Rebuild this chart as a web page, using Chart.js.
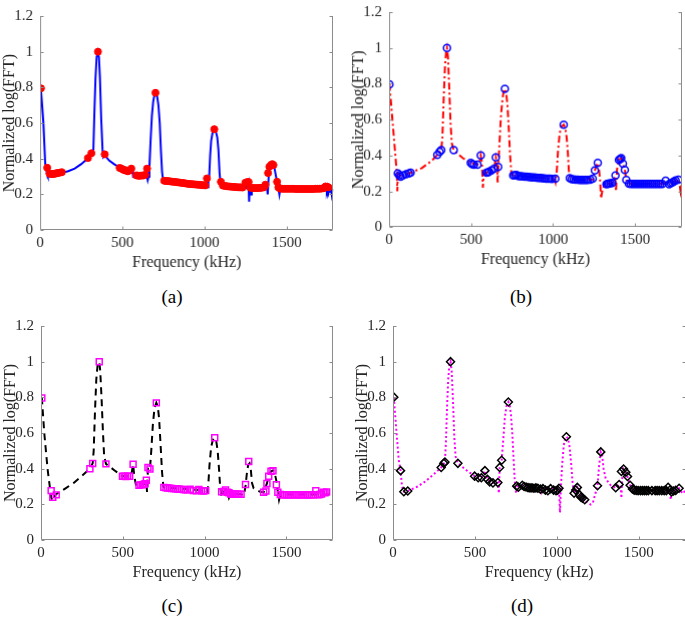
<!DOCTYPE html>
<html lang="en">
<head>
<meta charset="UTF-8">
<title>Normalized log(FFT) spectra</title>
<script src="https://cdn.jsdelivr.net/npm/chart.js"></script>
<style>
  body { margin: 0; background: #fff; }
  #fig { position: relative; width: 685px; height: 620px; overflow: hidden; }
  .panel { position: absolute; }
  .tag {
    position: absolute;
    font-family: "Liberation Serif", "DejaVu Serif", serif;
    font-size: 19px;
    color: #000;
    transform: translate(-50%, -50%);
  }
</style>
</head>
<body>
<div id="fig">
  <div class="panel" id="boxA"><canvas id="chartA"></canvas></div>
  <div class="panel" id="boxB"><canvas id="chartB"></canvas></div>
  <div class="panel" id="boxC"><canvas id="chartC"></canvas></div>
  <div class="panel" id="boxD"><canvas id="chartD"></canvas></div>
  <div class="tag" style="left:172px;top:297px">(a)</div>
  <div class="tag" style="left:521px;top:297px">(b)</div>
  <div class="tag" style="left:172px;top:606px">(c)</div>
  <div class="tag" style="left:522px;top:606px">(d)</div>
</div>

<script>
// axis ticks
const xTicks = [0, 500, 1000, 1500];
const yTicks = [0, 0.2, 0.4, 0.6, 0.8, 1, 1.2];
const xMax = 1785;

// (a) blue solid curve + red filled dots  [kHz, value]
const lineA = [[5,0.79],[20,0.6],[31,0.37],[43,0.31],[47,0.3],[55,0.305],[80,0.31],[128,0.32],[170,0.33],[210,0.345],
  [250,0.37],[281,0.395],[305,0.415],[318,0.43],[324,0.45],[330,0.65],[337,0.85],[344,0.97],[352,1.0],[358,0.97],
  [364,0.86],[372,0.62],[380,0.45],[385,0.41],[393,0.42],[420,0.39],[450,0.37],[484,0.35],[520,0.335],[555,0.325],
  [562,0.33],[566,0.3],[600,0.3],[640,0.3],[650,0.3],[655,0.28],[660,0.3],[665,0.35],[672,0.5],[680,0.64],
  [688,0.72],[696,0.76],[704,0.77],[712,0.75],[720,0.7],[728,0.6],[735,0.45],[742,0.33],[748,0.28],[755,0.275],
  [800,0.27],[900,0.26],[1000,0.25],[1015,0.25],[1020,0.24],[1024,0.27],[1029,0.3],[1035,0.42],[1041,0.5],[1050,0.55],
  [1060,0.565],[1070,0.55],[1078,0.52],[1085,0.45],[1092,0.32],[1097,0.27],[1110,0.245],[1200,0.24],[1255,0.235],[1262,0.26],
  [1268,0.27],[1272,0.16],[1276,0.26],[1281,0.24],[1284,0.2],[1288,0.235],[1300,0.235],[1370,0.24],[1380,0.25],[1385,0.2],
  [1391,0.3],[1400,0.355],[1415,0.37],[1425,0.355],[1432,0.32],[1438,0.29],[1445,0.26],[1450,0.235],[1456,0.2],[1462,0.235],
  [1500,0.23],[1600,0.228],[1730,0.23],[1740,0.24],[1745,0.22],[1750,0.24],[1755,0.21],[1760,0.23],[1765,0.215],[1770,0.235],
  [1775,0.2],[1780,0.23]];
const dotsA = [[5,0.795],[43,0.35],[57,0.317],[65,0.315],[73,0.315],[82,0.315],[90,0.317],[98,0.318],[105,0.32],[118,0.322],
  [132,0.325],[291,0.404],[312,0.431],[352,1.0],[393,0.425],[484,0.349],[495,0.345],[504,0.34],[512,0.337],[519,0.335],
  [527,0.333],[534,0.33],[545,0.335],[555,0.345],[586,0.307],[596,0.305],[606,0.305],[616,0.306],[627,0.306],[640,0.31],
  [651,0.345],[702,0.77],[755,0.277],[765,0.276],[777,0.275],[789,0.274],[801,0.272],[813,0.271],[825,0.27],[837,0.268],
  [849,0.267],[861,0.265],[873,0.264],[885,0.262],[897,0.26],[909,0.259],[921,0.258],[933,0.257],[945,0.256],[957,0.255],
  [969,0.254],[981,0.253],[993,0.252],[1005,0.251],[1015,0.29],[1060,0.566],[1100,0.271],[1112,0.25],[1124,0.248],[1136,0.246],
  [1148,0.245],[1160,0.244],[1172,0.243],[1184,0.242],[1196,0.241],[1208,0.24],[1220,0.24],[1232,0.239],[1249,0.266],[1262,0.27],
  [1269,0.27],[1279,0.238],[1290,0.237],[1302,0.236],[1314,0.236],[1326,0.236],[1338,0.237],[1350,0.238],[1362,0.24],[1371,0.255],
  [1387,0.32],[1395,0.355],[1405,0.365],[1413,0.37],[1420,0.365],[1442,0.271],[1450,0.24],[1460,0.233],[1472,0.232],[1484,0.232],
  [1496,0.232],[1508,0.232],[1520,0.232],[1532,0.232],[1544,0.232],[1556,0.231],[1568,0.231],[1580,0.231],[1592,0.231],[1604,0.231],
  [1616,0.231],[1628,0.231],[1640,0.231],[1652,0.231],[1664,0.231],[1676,0.232],[1688,0.232],[1700,0.232],[1712,0.233],[1726,0.235],
  [1737,0.245],[1747,0.243],[1755,0.24]];

// (b) red dash-dot curve + blue open circles
const lineB = [[2,0.8],[20,0.6],[38,0.4],[47,0.3],[50,0.2],[53,0.3],[70,0.285],[131,0.304],[200,0.33],[260,0.37],
  [294,0.403],[318,0.43],[325,0.5],[333,0.72],[341,0.9],[348,0.98],[353,1.0],[359,0.95],[366,0.8],[374,0.6],
  [382,0.47],[394,0.43],[450,0.385],[498,0.358],[539,0.349],[553,0.37],[559,0.4],[566,0.36],[572,0.22],[577,0.3],
  [594,0.304],[641,0.327],[651,0.389],[658,0.36],[662,0.25],[666,0.336],[672,0.45],[682,0.62],[692,0.72],[700,0.765],
  [706,0.771],[714,0.75],[722,0.68],[730,0.55],[738,0.4],[746,0.3],[757,0.289],[1000,0.269],[1010,0.265],[1015,0.25],
  [1022,0.3],[1030,0.42],[1040,0.52],[1050,0.56],[1065,0.572],[1075,0.55],[1083,0.5],[1090,0.42],[1096,0.32],[1102,0.273],
  [1240,0.265],[1255,0.317],[1265,0.345],[1273,0.358],[1280,0.33],[1287,0.26],[1293,0.16],[1300,0.2],[1310,0.23],[1326,0.24],
  [1361,0.247],[1378,0.285],[1384,0.2],[1390,0.32],[1402,0.376],[1416,0.385],[1426,0.355],[1438,0.32],[1447,0.263],[1463,0.242],
  [1680,0.242],[1687,0.259],[1708,0.24],[1765,0.265],[1772,0.24],[1778,0.2],[1785,0.24]];
const ringsB = [[2,0.797],[53,0.3],[62,0.29],[70,0.282],[84,0.289],[104,0.295],[120,0.3],[131,0.304],[294,0.403],[308,0.42],
  [318,0.43],[353,1.0],[394,0.43],[498,0.358],[507,0.352],[517,0.349],[539,0.349],[559,0.4],[594,0.304],[602,0.306],
  [610,0.309],[624,0.316],[641,0.327],[651,0.389],[665,0.336],[706,0.771],[757,0.289],[767,0.29],[777,0.291],[790,0.285],
  [802,0.284],[814,0.283],[826,0.282],[838,0.281],[850,0.28],[862,0.279],[874,0.278],[886,0.277],[898,0.276],[910,0.275],
  [922,0.274],[934,0.273],[946,0.272],[958,0.271],[970,0.27],[982,0.27],[994,0.269],[1014,0.27],[1065,0.572],[1102,0.273],
  [1114,0.268],[1126,0.266],[1138,0.265],[1150,0.265],[1162,0.264],[1174,0.264],[1186,0.264],[1198,0.264],[1210,0.264],[1227,0.265],
  [1242,0.27],[1255,0.317],[1273,0.358],[1326,0.24],[1334,0.242],[1341,0.243],[1350,0.245],[1361,0.247],[1381,0.289],[1402,0.376],
  [1410,0.38],[1416,0.385],[1426,0.355],[1438,0.32],[1447,0.263],[1463,0.242],[1475,0.241],[1487,0.241],[1499,0.241],[1511,0.241],
  [1523,0.241],[1535,0.241],[1547,0.241],[1559,0.241],[1571,0.241],[1583,0.241],[1595,0.241],[1607,0.241],[1619,0.241],[1631,0.241],
  [1643,0.241],[1655,0.241],[1667,0.241],[1687,0.259],[1708,0.24],[1718,0.245],[1728,0.25],[1738,0.255],[1748,0.26],[1765,0.265]];

// (c) black dashed curve + magenta open squares
const lineC = [[5,0.8],[20,0.6],[40,0.4],[55,0.29],[62,0.24],[70,0.22],[90,0.255],[150,0.29],[200,0.32],[250,0.36],
  [299,0.4],[316,0.43],[322,0.5],[330,0.72],[338,0.9],[346,0.98],[356,1.0],[362,0.95],[370,0.8],[378,0.62],
  [386,0.47],[397,0.427],[450,0.39],[498,0.358],[542,0.358],[555,0.38],[563,0.425],[570,0.36],[580,0.31],[599,0.307],
  [636,0.315],[644,0.335],[648,0.27],[654,0.407],[666,0.398],[674,0.5],[684,0.65],[694,0.74],[705,0.769],[714,0.75],
  [722,0.68],[730,0.55],[740,0.38],[748,0.3],[751,0.295],[1007,0.277],[1015,0.27],[1022,0.3],[1030,0.42],[1040,0.52],
  [1050,0.56],[1062,0.573],[1072,0.55],[1080,0.5],[1088,0.4],[1095,0.3],[1104,0.237],[1117,0.272],[1128,0.28],[1140,0.268],
  [1149,0.237],[1158,0.258],[1223,0.257],[1240,0.25],[1250,0.3],[1258,0.37],[1266,0.42],[1275,0.43],[1282,0.4],[1290,0.32],
  [1300,0.29],[1340,0.27],[1361,0.268],[1381,0.317],[1392,0.358],[1406,0.385],[1418,0.39],[1428,0.38],[1439,0.33],[1448,0.268],
  [1455,0.225],[1463,0.255],[1785,0.255]];
const squaresC = [[5,0.796],[62,0.277],[72,0.24],[93,0.253],[299,0.4],[316,0.429],[356,1.0],[397,0.427],[498,0.358],[508,0.357],
  [518,0.356],[530,0.357],[542,0.358],[563,0.425],[599,0.307],[610,0.309],[620,0.31],[628,0.312],[636,0.315],[644,0.335],
  [654,0.407],[666,0.398],[705,0.769],[751,0.295],[764,0.293],[775,0.292],[787,0.29],[799,0.289],[811,0.288],[823,0.287],
  [835,0.286],[847,0.285],[859,0.284],[871,0.283],[883,0.282],[895,0.281],[912,0.285],[930,0.277],[950,0.276],[965,0.283],
  [982,0.276],[995,0.275],[1007,0.277],[1062,0.573],[1104,0.271],[1117,0.272],[1128,0.28],[1140,0.268],[1149,0.265],[1160,0.258],
  [1169,0.257],[1180,0.257],[1190,0.257],[1199,0.257],[1210,0.257],[1223,0.257],[1250,0.311],[1270,0.44],[1361,0.268],[1375,0.275],
  [1381,0.317],[1392,0.358],[1406,0.385],[1418,0.388],[1439,0.31],[1448,0.268],[1463,0.255],[1475,0.254],[1487,0.254],[1499,0.254],
  [1511,0.254],[1523,0.253],[1535,0.253],[1547,0.253],[1559,0.253],[1571,0.253],[1583,0.253],[1595,0.253],[1607,0.253],[1619,0.253],
  [1631,0.253],[1643,0.253],[1655,0.253],[1667,0.254],[1680,0.277],[1692,0.254],[1704,0.255],[1715,0.258],[1726,0.268],[1736,0.265],
  [1746,0.27]];

// (d) magenta dotted curve + black open diamonds
const lineD = [[5,0.8],[20,0.62],[35,0.45],[46,0.389],[55,0.3],[66,0.271],[90,0.275],[150,0.3],[200,0.33],[250,0.37],
  [294,0.407],[317,0.437],[323,0.55],[330,0.75],[337,0.9],[344,0.98],[351,1.0],[358,0.95],[366,0.78],[374,0.58],
  [382,0.47],[396,0.43],[450,0.39],[498,0.358],[539,0.349],[561,0.389],[576,0.34],[610,0.32],[640,0.322],[646,0.262],
  [651,0.407],[663,0.447],[672,0.55],[682,0.68],[692,0.75],[704,0.774],[712,0.76],[720,0.7],[728,0.6],[736,0.45],
  [745,0.3],[752,0.262],[760,0.3],[789,0.307],[900,0.29],[905,0.27],[912,0.288],[1013,0.29],[1019,0.154],[1025,0.3],
  [1032,0.42],[1042,0.53],[1050,0.57],[1058,0.579],[1068,0.57],[1078,0.52],[1088,0.42],[1096,0.32],[1105,0.262],[1115,0.28],
  [1125,0.295],[1139,0.253],[1156,0.235],[1170,0.226],[1185,0.21],[1207,0.199],[1220,0.21],[1235,0.26],[1248,0.304],[1258,0.42],
  [1268,0.494],[1276,0.48],[1285,0.4],[1298,0.344],[1328,0.307],[1359,0.293],[1380,0.311],[1390,0.3],[1394,0.235],[1398,0.34],
  [1407,0.398],[1421,0.38],[1431,0.356],[1447,0.307],[1461,0.286],[1480,0.278],[1690,0.278],[1695,0.226],[1700,0.27],[1746,0.29],
  [1760,0.27],[1770,0.26],[1785,0.28]];
const diamondsD = [[5,0.801],[46,0.389],[66,0.271],[90,0.275],[294,0.407],[310,0.43],[317,0.437],[351,1.0],[396,0.43],[498,0.358],
  [520,0.349],[539,0.349],[561,0.389],[576,0.34],[590,0.326],[610,0.32],[640,0.322],[651,0.407],[663,0.447],[704,0.774],
  [755,0.302],[765,0.296],[789,0.307],[800,0.3],[812,0.297],[824,0.294],[836,0.292],[848,0.292],[860,0.29],[872,0.292],
  [884,0.29],[900,0.285],[915,0.288],[930,0.28],[945,0.276],[962,0.288],[980,0.28],[995,0.276],[1005,0.28],[1013,0.29],
  [1058,0.579],[1105,0.262],[1115,0.28],[1125,0.295],[1139,0.253],[1147,0.24],[1156,0.235],[1170,0.226],[1248,0.304],[1268,0.494],
  [1359,0.293],[1380,0.311],[1394,0.384],[1407,0.398],[1421,0.38],[1431,0.356],[1447,0.307],[1461,0.286],[1472,0.28],[1484,0.278],
  [1496,0.277],[1510,0.277],[1522,0.277],[1534,0.277],[1546,0.277],[1558,0.277],[1580,0.277],[1600,0.277],[1612,0.277],[1625,0.277],
  [1640,0.277],[1655,0.277],[1668,0.277],[1679,0.296],[1690,0.28],[1700,0.27],[1712,0.275],[1725,0.278],[1746,0.29]];

const serif = '"Liberation Serif", "DejaVu Serif", serif';
const textColor = '#262626';

// inward MATLAB-style ticks and the axes box (left, bottom, right)
const axisFrame = {
  id: 'axisFrame',
  afterDraw(chart) {
    const { ctx, chartArea: a, scales: { x, y } } = chart;
    const L = Math.round(a.left) + 0.5, R = Math.round(a.right) - 0.5, B = Math.round(a.bottom) - 0.5, T = Math.round(a.top);
    ctx.save();
    ctx.strokeStyle = '#8c8c8c';
    ctx.lineWidth = 1;
    ctx.beginPath();
    ctx.moveTo(L, T); ctx.lineTo(L, B); ctx.lineTo(R, B); ctx.lineTo(R, T);
    yTicks.forEach(v => {
      const p = Math.round(y.getPixelForValue(v)) + 0.5;
      ctx.moveTo(L, p); ctx.lineTo(L + 3, p);
      ctx.moveTo(R, p); ctx.lineTo(R - 3, p);
    });
    xTicks.forEach(v => {
      const p = Math.round(x.getPixelForValue(v)) + 0.5;
      ctx.moveTo(p, B); ctx.lineTo(p, B - 3);
    });
    ctx.stroke();
    ctx.restore();
  }
};

const toXY = arr => arr.map(([f, v]) => ({ x: f, y: v }));

// plot rectangle of each panel in page pixels
function makePanel(boxId, canvasId, rect, curve, marks) {
  const yW = 40, xH = 42, padT = 9, padR = 8;
  const box = document.getElementById(boxId);
  box.style.left = (rect.l - yW) + 'px';
  box.style.top = (rect.t - padT) + 'px';
  box.style.width = (rect.r - rect.l + yW + padR) + 'px';
  box.style.height = (rect.b - rect.t + padT + xH) + 'px';

  return new Chart(document.getElementById(canvasId), {
    type: 'scatter',
    data: {
      datasets: [
        Object.assign({ data: toXY(marks), showLine: false }, marks.style),
        Object.assign({ data: toXY(curve), showLine: true, pointRadius: 0, tension: 0, borderWidth: 2 }, curve.style)
      ]
    },
    options: {
      responsive: true,
      maintainAspectRatio: false,
      animation: false,
      layout: { padding: { top: padT, right: padR, left: 0, bottom: 0 } },
      plugins: { legend: { display: false }, tooltip: { enabled: false } },
      scales: {
        x: {
          type: 'linear', min: 0, max: xMax,
          grid: { display: false, drawTicks: false },
          border: { display: false },
          afterBuildTicks: s => { s.ticks = xTicks.map(v => ({ value: v })); },
          afterFit: s => { s.height = xH; },
          ticks: { color: textColor, padding: 4, font: { family: serif, size: 15 }, callback: v => String(v) },
          title: { display: true, text: 'Frequency (kHz)', color: textColor, padding: 0, font: { family: serif, size: 16 } }
        },
        y: {
          type: 'linear', min: 0, max: 1.2,
          grid: { display: false, drawTicks: false },
          border: { display: false },
          afterBuildTicks: s => { s.ticks = yTicks.map(v => ({ value: v })); },
          afterFit: s => { s.width = yW; },
          ticks: { color: textColor, padding: 7, font: { family: serif, size: 15 }, callback: v => String(v) },
          title: { display: true, text: 'Normalized log(FFT)', color: textColor, padding: 0, font: { family: serif, size: 16 } }
        }
      }
    },
    plugins: [axisFrame]
  });
}

lineA.style = { borderColor: '#0000ff' };
dotsA.style = { pointStyle: 'circle', pointRadius: 3.5, backgroundColor: '#ff0000', borderColor: '#ff0000', borderWidth: 1 };
lineB.style = { borderColor: '#ff0000', borderDash: [7, 3, 2, 3] };
ringsB.style = { pointStyle: 'circle', pointRadius: 3.5, backgroundColor: 'rgba(0,0,0,0)', borderColor: '#0000ff', borderWidth: 1.5 };
lineC.style = { borderColor: '#000000', borderDash: [7, 5] };
squaresC.style = { pointStyle: 'rect', pointRadius: 4.2, backgroundColor: 'rgba(0,0,0,0)', borderColor: '#ff00ff', borderWidth: 1.5 };
lineD.style = { borderColor: '#ff00ff', borderDash: [2, 2.5] };
diamondsD.style = { pointStyle: 'rectRot', pointRadius: 4, backgroundColor: 'rgba(0,0,0,0)', borderColor: '#000000', borderWidth: 1.5 };

makePanel('boxA', 'chartA', { l: 40.3, t: 8.8, r: 332.7, b: 230 }, lineA, dotsA);
makePanel('boxB', 'chartB', { l: 389.3, t: 5.4, r: 681, b: 226.7 }, lineB, ringsB);
makePanel('boxC', 'chartC', { l: 41, t: 319, r: 333, b: 540 }, lineC, squaresC);
makePanel('boxD', 'chartD', { l: 392.5, t: 319, r: 685, b: 540 }, lineD, diamondsD);
</script>
</body>
</html>
